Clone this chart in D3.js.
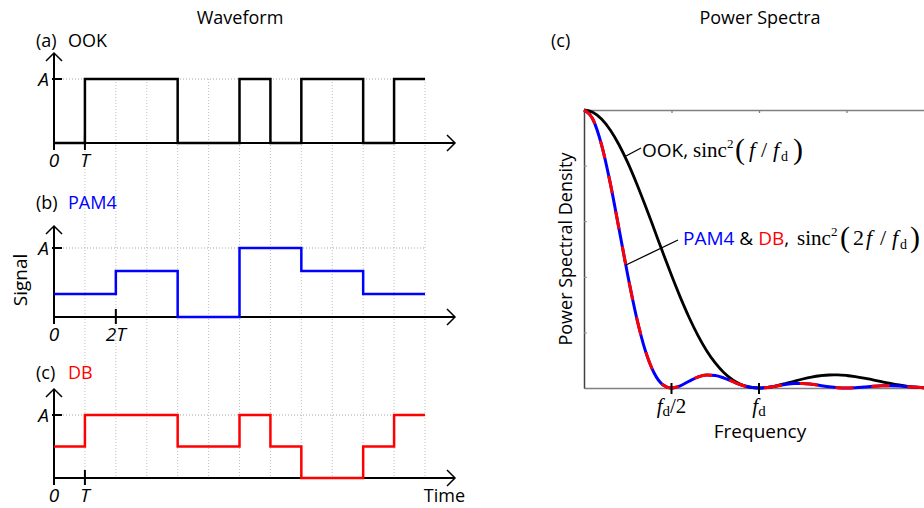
<!DOCTYPE html>
<html>
<head>
<meta charset="utf-8">
<script src="https://cdn.jsdelivr.net/npm/d3@7"></script>
<style>
body { margin: 0; background: #fff; }
text { font-family: "Open Sans", sans-serif; fill: #000; }
.serif { font-family: "Liberation Serif", "Times New Roman", serif; }
</style>
</head>
<body>
<svg id="chart" width="924" height="508"></svg>
<script>
// waveform levels, in units of A (one value per symbol)
var ookBits    = [0, 1, 1, 1, 0, 0, 1, 0, 1, 1, 0, 1];          // symbol = T
var pam4Levels = [0.333, 0.667, 0, 1, 0.667, 0.333];            // symbol = 2T
var dbLevels   = [0.5, 1, 1, 1, 0.5, 0.5, 1, 0.5, 0, 0, 0.5, 1]; // symbol = T

// power spectra, frequency in units of f_d
var freqs = [0, 0.05, 0.1, 0.15, 0.2, 0.25, 0.3, 0.35, 0.4, 0.45, 0.5, 0.55, 0.6, 0.65, 0.7,
  0.75, 0.8, 0.85, 0.9, 0.95, 1, 1.05, 1.1, 1.15, 1.2, 1.25, 1.3, 1.35, 1.4, 1.45, 1.5,
  1.55, 1.6, 1.65, 1.7, 1.75, 1.8, 1.85, 1.9, 1.95, 2];
var ookPsd = [1, 0.9918, 0.9675, 0.9282, 0.8751, 0.8106, 0.7368, 0.6566, 0.5728, 0.4881,
  0.4053, 0.3268, 0.2546, 0.1904, 0.1353, 0.0901, 0.0547, 0.0289, 0.0119, 0.0027, 0,
  0.0022, 0.0080, 0.0158, 0.0243, 0.0324, 0.0392, 0.0441, 0.0468, 0.0470, 0.0450, 0.0411,
  0.0358, 0.0295, 0.0229, 0.0165, 0.0108, 0.0061, 0.0027, 0.0007, 0];
var pam4Psd = [1, 0.9675, 0.8751, 0.7368, 0.5728, 0.4053, 0.2546, 0.1353, 0.0547, 0.0119,
  0, 0.0080, 0.0243, 0.0392, 0.0468, 0.0450, 0.0358, 0.0229, 0.0108, 0.0027, 0,
  0.0022, 0.0072, 0.0125, 0.0159, 0.0162, 0.0136, 0.0091, 0.0045, 0.0011, 0,
  0.0010, 0.0034, 0.0061, 0.0079, 0.0083, 0.0071, 0.0048, 0.0024, 0.0006, 0];
var psdTicks = [0.2, 0.4, 0.6, 0.8];
var freqTicks = [0.5, 1, 1.5];

var svg = d3.select("#chart");

// ---------- left: waveforms ----------
var tx = d3.scaleLinear().domain([0, 12]).range([54, 425]);
var xEnd = 455;

var panels = [
  {tag: "(a)", name: "OOK",  color: "#000",    levels: ookBits,    span: 1, y0: 143, yA: 79,  top: 53,  lab: 47,  tick: 1, tickText: "T"},
  {tag: "(b)", name: "PAM4", color: "#0000ff", levels: pam4Levels, span: 2, y0: 317, yA: 248, top: 226, lab: 209, tick: 2, tickText: "2T"},
  {tag: "(c)", name: "DB",   color: "#ff0000", levels: dbLevels,   span: 1, y0: 478, yA: 415, top: 389, lab: 379, tick: 1, tickText: "T"}
];

// dotted grid lines shared by all three panels
svg.append("g").selectAll("line")
  .data(d3.range(1, 13))
  .enter().append("line")
  .attr("x1", function(d) { return tx(d); })
  .attr("x2", function(d) { return tx(d); })
  .attr("y1", panels[0].yA)
  .attr("y2", panels[2].y0)
  .attr("stroke", "#c0c0c0")
  .attr("stroke-width", 1)
  .attr("stroke-dasharray", "1,2");

panels.forEach(function(p) {
  var y = d3.scaleLinear().domain([0, 1]).range([p.y0, p.yA]);
  var g = svg.append("g");

  g.append("line")
    .attr("x1", tx(0)).attr("x2", tx(12))
    .attr("y1", y(1)).attr("y2", y(1))
    .attr("stroke", "#a8a8a8").attr("stroke-dasharray", "1,2");

  // axes with open arrow heads
  g.append("line").attr("x1", tx(0)).attr("x2", xEnd).attr("y1", y(0)).attr("y2", y(0))
    .attr("stroke", "#000").attr("stroke-width", 2);
  g.append("line").attr("x1", tx(0)).attr("x2", tx(0)).attr("y1", y(0) + 7).attr("y2", p.top)
    .attr("stroke", "#000").attr("stroke-width", 2);
  g.append("path").attr("d", "M" + (xEnd - 8) + "," + (y(0) - 8) + "L" + xEnd + "," + y(0) + "L" + (xEnd - 8) + "," + (y(0) + 8))
    .attr("fill", "none").attr("stroke", "#000").attr("stroke-width", 1.5);
  g.append("path").attr("d", "M" + (tx(0) - 8) + "," + (p.top + 8) + "L" + tx(0) + "," + p.top + "L" + (tx(0) + 8) + "," + (p.top + 8))
    .attr("fill", "none").attr("stroke", "#000").attr("stroke-width", 1.5);

  // ticks
  g.append("line").attr("x1", tx(0) - 2).attr("x2", tx(0) + 8).attr("y1", y(1)).attr("y2", y(1))
    .attr("stroke", "#000").attr("stroke-width", 2);
  g.append("line").attr("x1", tx(p.tick)).attr("x2", tx(p.tick)).attr("y1", y(0) - 8).attr("y2", y(0) + 7)
    .attr("stroke", "#000").attr("stroke-width", 2);

  // signal
  var pts = p.levels.map(function(v, i) { return [i * p.span, v]; });
  pts.push([p.levels.length * p.span, p.levels[p.levels.length - 1]]);
  g.append("path")
    .attr("d", d3.line().x(function(d) { return tx(d[0]); }).y(function(d) { return y(d[1]); }).curve(d3.curveStepAfter)(pts))
    .attr("fill", "none").attr("stroke", p.color).attr("stroke-width", 2.5);

  // labels
  g.append("text").attr("x", 36).attr("y", p.lab).style("font-size", "18px").text(p.tag);
  g.append("text").attr("x", 68).attr("y", p.lab).style("font-size", "18px").style("fill", p.color).text(p.name);
  g.append("text").attr("x", 49).attr("y", y(1) + 7).attr("text-anchor", "end")
    .style("font-size", "19px").style("font-style", "italic").text("A");
  g.append("text").attr("x", tx(0)).attr("y", y(0) + 24).attr("text-anchor", "middle")
    .style("font-size", "19px").style("font-style", "italic").text("0");
  g.append("text").attr("x", tx(p.tick)).attr("y", y(0) + 24).attr("text-anchor", "middle")
    .style("font-size", "19px").style("font-style", "italic").text(p.tickText);
});

svg.append("text").attr("x", 240).attr("y", 24).attr("text-anchor", "middle").style("font-size", "18px").text("Waveform");
svg.append("text").attr("transform", "translate(27,280) rotate(-90)").attr("text-anchor", "middle")
  .style("font-size", "19px").text("Signal");
svg.append("text").attr("x", 465).attr("y", 502).attr("text-anchor", "end").style("font-size", "18px").text("Time");

// ---------- right: power spectra ----------
var fx = d3.scaleLinear().domain([0, 2]).range([584, 934]);
var py = d3.scaleLinear().domain([0, 1]).range([388, 110]);

svg.append("g").attr("transform", "translate(0,110)")
  .call(d3.axisTop(fx).tickValues(freqTicks).tickSize(-3).tickFormat(""))
  .call(function(s) { s.selectAll("path, line").attr("stroke", "#808080").attr("stroke-width", 1.3); });
svg.append("g").attr("transform", "translate(0,388)")
  .call(d3.axisBottom(fx).tickValues([]).tickSizeOuter(0))
  .call(function(s) { s.selectAll("path").attr("stroke", "#808080").attr("stroke-width", 1.5); });
svg.append("g").attr("transform", "translate(584,0)")
  .call(d3.axisLeft(py).tickValues(psdTicks).tickSize(-3).tickSizeOuter(0).tickFormat(""))
  .call(function(s) {
    s.select("path").attr("stroke", "#404040").attr("stroke-width", 1.5);
    s.selectAll("line").attr("stroke", "#909090");
  });

var psdLine = function(vals) {
  return d3.line()
    .x(function(d, i) { return fx(freqs[i]); })
    .y(function(d) { return py(d); })
    .curve(d3.curveMonotoneX)(vals);
};

svg.append("path").attr("d", psdLine(ookPsd)).attr("fill", "none").attr("stroke", "#000").attr("stroke-width", 2.8);
svg.append("path").attr("d", psdLine(pam4Psd)).attr("fill", "none").attr("stroke", "#0000ff").attr("stroke-width", 3);
svg.append("path").attr("d", psdLine(pam4Psd)).attr("fill", "none").attr("stroke", "#ff0000").attr("stroke-width", 3)
  .attr("stroke-dasharray", "18,18");

// f_d ticks on the frequency axis
[0.5, 1].forEach(function(f) {
  svg.append("line").attr("x1", fx(f)).attr("x2", fx(f)).attr("y1", py(0) - 5).attr("y2", py(0) + 6)
    .attr("stroke", "#000").attr("stroke-width", 2);
});
var fl = svg.append("text").attr("class", "serif").attr("x", fx(0.5)).attr("y", 413).attr("text-anchor", "middle").style("font-size", "21px");
fl.append("tspan").style("font-style", "italic").text("f");
fl.append("tspan").attr("dy", 3).style("font-size", "15px").text("d");
fl.append("tspan").attr("dy", -3).text("/2");
var fl2 = svg.append("text").attr("class", "serif").attr("x", fx(1)).attr("y", 413).attr("text-anchor", "middle").style("font-size", "21px");
fl2.append("tspan").style("font-style", "italic").text("f");
fl2.append("tspan").attr("dy", 3).style("font-size", "15px").text("d");

svg.append("text").attr("x", 760).attr("y", 438).attr("text-anchor", "middle").style("font-size", "19px").text("Frequency");
svg.append("text").attr("transform", "translate(572,249) rotate(-90)").attr("text-anchor", "middle")
  .style("font-size", "18px").text("Power Spectral Density");
svg.append("text").attr("x", 760).attr("y", 24).attr("text-anchor", "middle").style("font-size", "18px").text("Power Spectra");
svg.append("text").attr("x", 551).attr("y", 47).style("font-size", "18px").text("(c)");

// annotations
svg.append("line").attr("x1", 626).attr("y1", 156).attr("x2", 641).attr("y2", 148).attr("stroke", "#000").attr("stroke-width", 1.3);
svg.append("line").attr("x1", 626).attr("y1", 265).attr("x2", 678).attr("y2", 240).attr("stroke", "#000").attr("stroke-width", 1.3);

svg.append("text").attr("x", 642).attr("y", 157).style("font-size", "19px").text("OOK,");
var t2 = svg.append("text").attr("x", 683).attr("y", 245).style("font-size", "19px");
t2.append("tspan").style("fill", "#0000ff").text("PAM4");
t2.append("tspan").text(" & ");
t2.append("tspan").style("fill", "#ff0000").text("DB");
t2.append("tspan").text(",");

// sinc^2(...) label: [text, x offset, size, y shift, italic]
function sincLabel(x0, y, pieces) {
  var g = svg.append("g");
  pieces.forEach(function(p) {
    g.append("text").attr("class", "serif")
      .attr("x", x0 + p[1]).attr("y", y + (p[3] || 0))
      .style("font-size", p[2] + "px")
      .style("font-style", p[4] ? "italic" : "normal")
      .text(p[0]);
  });
}
sincLabel(693, 157, [
  ["sinc", 0, 21], ["2", 34, 13, -9], ["(", 42, 30, 2], ["f", 56, 22, 0, 1], ["/", 68, 22],
  ["f", 80, 22, 0, 1], ["d", 88, 14, 4], [")", 100, 30, 2]
]);
sincLabel(797, 245, [
  ["sinc", 0, 21], ["2", 34, 13, -9], ["(", 43, 30, 2], ["2", 56, 22], ["f", 69, 22, 0, 1],
  ["/", 83, 22], ["f", 95, 22, 0, 1], ["d", 103, 14, 4], [")", 113, 30, 2]
]);
</script>
</body>
</html>
